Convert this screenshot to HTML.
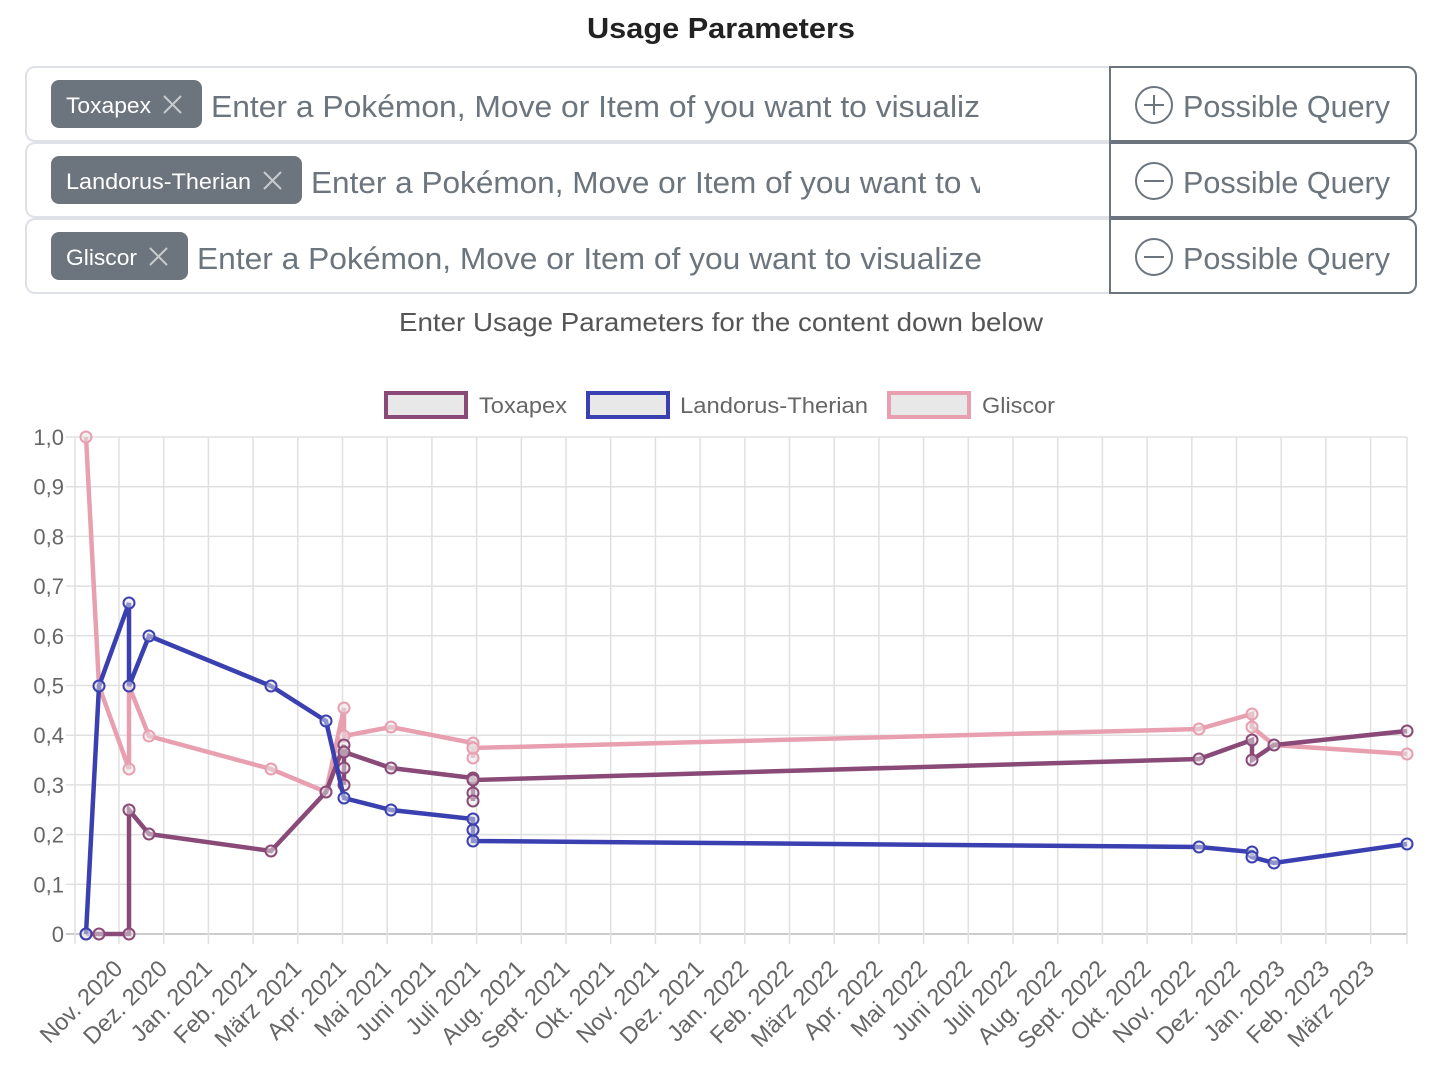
<!DOCTYPE html>
<html><head><meta charset="utf-8"><style>
body{margin:0;background:#fff;width:1437px;height:1070px;overflow:hidden;font-family:"Liberation Sans",sans-serif}
svg text{font-family:"Liberation Sans","DejaVu Sans",sans-serif}
</style></head><body>
<svg id="s" width="1437" height="1070" xmlns="http://www.w3.org/2000/svg">
<text x="587" y="38" font-size="29" font-weight="bold" fill="#222" textLength="268" lengthAdjust="spacingAndGlyphs">Usage Parameters</text>
<g fill="#fff" stroke="#dee2e6" stroke-width="2">
<rect x="26" y="67" width="1100" height="74" rx="9"/>
<rect x="26" y="143" width="1100" height="74" rx="9"/>
<rect x="26" y="219" width="1100" height="74" rx="9"/>
</g>
<g fill="#fff" stroke="#6c757d" stroke-width="2">
<path d="M1110 67 H1407 a9 9 0 0 1 9 9 V132 a9 9 0 0 1 -9 9 H1110 Z"/>
<path d="M1110 143 H1407 a9 9 0 0 1 9 9 V208 a9 9 0 0 1 -9 9 H1110 Z"/>
<path d="M1110 219 H1407 a9 9 0 0 1 9 9 V284 a9 9 0 0 1 -9 9 H1110 Z"/>
</g>
<g fill="#6c757d">
<rect x="51" y="80" width="151" height="48" rx="8"/>
<rect x="51" y="156" width="251" height="48" rx="8"/>
<rect x="51" y="232" width="137" height="48" rx="8"/>
</g>
<g fill="#fff" font-size="22">
<text x="66" y="113" textLength="85" lengthAdjust="spacingAndGlyphs">Toxapex</text>
<text x="66" y="189" textLength="185" lengthAdjust="spacingAndGlyphs">Landorus-Therian</text>
<text x="66" y="265" textLength="71" lengthAdjust="spacingAndGlyphs">Gliscor</text>
</g>
<g stroke="#c8cbce" stroke-width="2">
<path d="M164 96l17 17M181 96l-17 17"/>
<path d="M264 172l17 17M281 172l-17 17"/>
<path d="M150 248l17 17M167 248l-17 17"/>
</g>
<g fill="#6c757d" font-size="31">
<text x="211" y="117" textLength="769" lengthAdjust="spacingAndGlyphs">Enter a Pokémon, Move or Item of you want to visualiz</text>
<text x="311" y="193" textLength="675" lengthAdjust="spacingAndGlyphs">Enter a Pokémon, Move or Item of you want to v</text>
<text x="197" y="269" textLength="785" lengthAdjust="spacingAndGlyphs">Enter a Pokémon, Move or Item of you want to visualize</text>
<text x="1183" y="117" textLength="207" lengthAdjust="spacingAndGlyphs">Possible Query</text>
<text x="1183" y="193" textLength="207" lengthAdjust="spacingAndGlyphs">Possible Query</text>
<text x="1183" y="269" textLength="207" lengthAdjust="spacingAndGlyphs">Possible Query</text>
</g>
<rect x="980" y="160" width="30" height="40" fill="#fff"/>
<g fill="none" stroke="#6c757d" stroke-width="2">
<circle cx="1154" cy="105" r="18"/><path d="M1144 105h20M1154 95v20"/>
<circle cx="1154" cy="181" r="18"/><path d="M1144 181h20"/>
<circle cx="1154" cy="257" r="18"/><path d="M1144 257h20"/>
</g>
<text x="399" y="331" font-size="26" fill="#555" textLength="644" lengthAdjust="spacingAndGlyphs">Enter Usage Parameters for the content down below</text>
<g font-size="22" fill="#666">
<rect x="386" y="393" width="80" height="24" fill="#e8e8e8" stroke="#8a4a78" stroke-width="4"/>
<text x="479" y="413" textLength="88" lengthAdjust="spacingAndGlyphs">Toxapex</text>
<rect x="588" y="393" width="80" height="24" fill="#e8e8e8" stroke="#3a40b0" stroke-width="4"/>
<text x="680" y="413" textLength="188" lengthAdjust="spacingAndGlyphs">Landorus-Therian</text>
<rect x="889" y="393" width="80" height="24" fill="#e8e8e8" stroke="#e8a0b0" stroke-width="4"/>
<text x="982" y="413" textLength="73" lengthAdjust="spacingAndGlyphs">Gliscor</text>
</g>
<g id="grid"></g>
<g id="series"></g>
</svg>
<script>
var NS="http://www.w3.org/2000/svg",g=document.getElementById('grid'),sr=document.getElementById('series');
function el(p,t,a,tx){var e=document.createElementNS(NS,t);for(var k in a)e.setAttribute(k,a[k]);if(tx)e.textContent=tx;p.appendChild(e);return e;}
var y0=934,dy=49.7;
for(var i=0;i<=10;i++){var y=y0-i*dy;el(g,'line',{x1:66,x2:1407,y1:y,y2:y,stroke:i==0?'#bbb':'#e0e0e0','stroke-width':1.5});
el(g,'text',{x:64,y:y+8,'text-anchor':'end','font-size':22,fill:'#666'},i==0?'0':(i==10?'1,0':'0,'+i));}
el(g,'line',{x1:75,x2:75,y1:437,y2:944,stroke:'#e0e0e0','stroke-width':1.5});
el(g,'line',{x1:1407,x2:1407,y1:437,y2:944,stroke:'#e0e0e0','stroke-width':1.5});
var L=["Nov. 2020","Dez. 2020","Jan. 2021","Feb. 2021","März 2021","Apr. 2021","Mai 2021","Juni 2021","Juli 2021","Aug. 2021","Sept. 2021","Okt. 2021","Nov. 2021","Dez. 2021","Jan. 2022","Feb. 2022","März 2022","Apr. 2022","Mai 2022","Juni 2022","Juli 2022","Aug. 2022","Sept. 2022","Okt. 2022","Nov. 2022","Dez. 2022","Jan. 2023","Feb. 2023","März 2023"];
L.forEach(function(t,i){var x=119+i*44.7;el(g,'line',{x1:x,x2:x,y1:437,y2:944,stroke:'#e0e0e0','stroke-width':1.5});
el(g,'text',{x:x+5,y:970,'text-anchor':'end','font-size':23.5,fill:'#666',transform:'rotate(-45 '+(x+5)+' 970)'},t);});
var S=[
['#e8a0b0',[[86,437],[99,686],[129,769],[129,686],[149,736],[271,769],[326,792],[344,708],[344,736],[391,727],[473,743],[473,748],[473,758],[473,748],[1199,729],[1252,714],[1252,727],[1274,745],[1407,754]]],
['#8a4a78',[[86,934],[99,934],[129,934],[129,810],[149,834],[271,851],[326,792],[344,745],[344,768],[344,785],[344,752],[391,768],[473,778],[473,793],[473,801],[473,780],[1199,759],[1252,740],[1252,760],[1274,745],[1407,731]]],
['#3a40b0',[[86,934],[99,686],[129,603],[129,686],[149,636],[271,686],[326,721],[344,798],[391,810],[473,819],[473,830],[473,841],[1199,847],[1252,852],[1252,857],[1274,863],[1407,844]]]
];
S.forEach(function(s){el(sr,'polyline',{points:s[1].map(function(p){return p.join(',')}).join(' '),fill:'none',stroke:s[0],'stroke-width':4.5,'stroke-linejoin':'miter'});
s[1].forEach(function(p){el(sr,'circle',{cx:p[0],cy:p[1],r:5.5,fill:'rgba(230,230,230,0.5)',stroke:s[0],'stroke-width':2});});});
</script>
</body></html>
